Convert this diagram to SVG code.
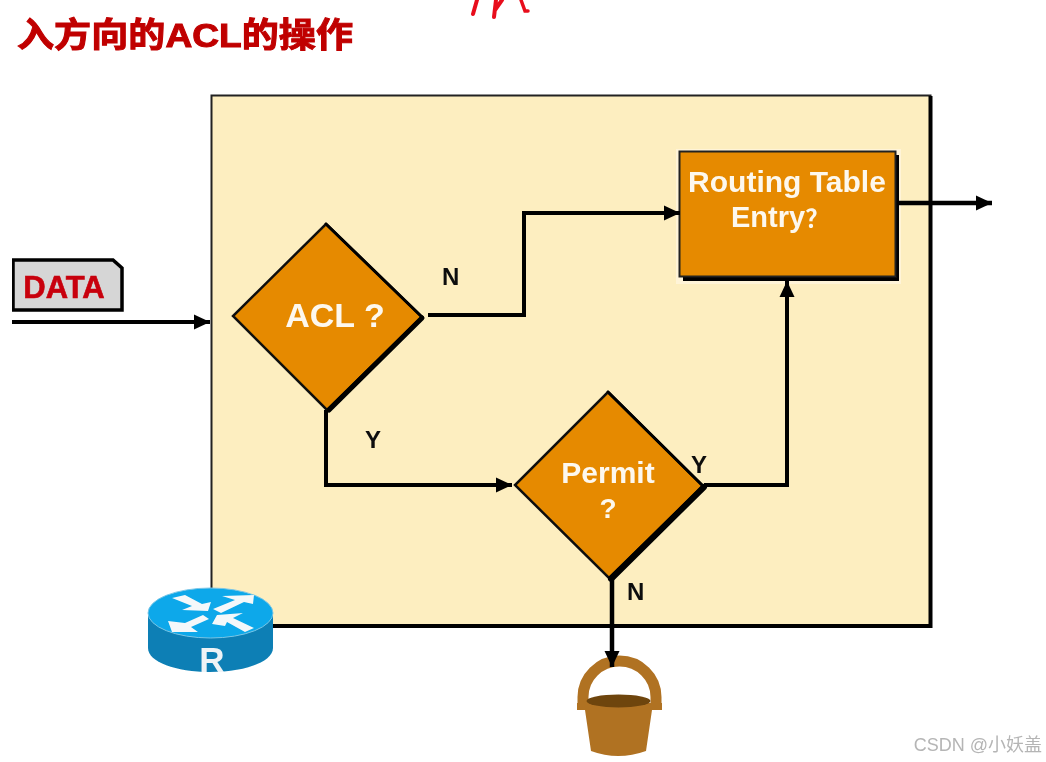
<svg xmlns="http://www.w3.org/2000/svg" width="1046" height="762" viewBox="0 0 1046 762">
<style>
.lbl{font-family:"Liberation Sans",Arial,"Noto Sans CJK SC",sans-serif;font-weight:700}
.w{fill:#fdf8ee;text-anchor:middle}
.k{fill:#111;font-size:24px}
.ln{fill:none;stroke:#000;stroke-linejoin:miter}
.d{fill:#e68a00;stroke:#111;stroke-width:2.500}
.sh{fill:none;stroke:#000;stroke-linecap:round}
</style>
<defs>
<marker id="ah" markerUnits="userSpaceOnUse" markerWidth="17" markerHeight="17" refX="16" refY="8.500" orient="auto"><path d="M0 1L16 8.500L0 16Z" fill="#000"/></marker>
<filter id="soft" x="0" y="0" width="100%" height="100%"><feGaussianBlur stdDeviation="0.550"/></filter>
</defs>
<rect width="1046" height="762" fill="#fff"/>
<g filter="url(#soft)">
<text id="title" class="lbl" x="17" y="47" font-size="34" fill="#c00000" stroke="#c00000" stroke-width="1" textLength="336" lengthAdjust="spacingAndGlyphs">入方向的ACL的操作</text>
<g id="scribble" fill="none" stroke="#e8101c" stroke-linecap="round"><path stroke-width="4" d="M473 14L477 0"/><path stroke-width="4" d="M494 17L496 0M495 10L502 0"/><path stroke-width="3.500" d="M521 0L525 11H528"/></g>
<g id="panel"><rect x="211.500" y="95.500" width="719" height="530" fill="#fdeec0" stroke="#222" stroke-width="2"/><path d="M930.500 96V626H211" fill="none" stroke="#000" stroke-width="4"/></g>
<g id="data"><path d="M13 260H113L122 268V310H13Z" fill="#d6d6d6" stroke="#000" stroke-width="3.500"/><text class="lbl" x="64" y="298" font-size="31" fill="#c8000a" stroke="#c8000a" stroke-width=".6" text-anchor="middle">DATA</text></g>
<g id="acl"><path class="d" d="M326 224L422 317L327 410L233 316Z"/><path class="sh" stroke-width="3" d="M326 224L422 317"/><path class="sh" stroke-width="5" d="M422 318L329 410"/><text class="lbl w" x="335" y="327" font-size="34">ACL ?</text></g>
<g id="permit"><path class="d" d="M608 392L703 486L609 578L515 485Z"/><path class="sh" stroke-width="3" d="M608 392L703 486"/><path class="sh" stroke-width="6" d="M704 487L611 579"/><text class="lbl w" x="608" y="483" font-size="30">Permit</text><text class="lbl w" x="608" y="518" font-size="28">?</text></g>
<g id="routing"><rect x="676" y="149" width="225" height="135" fill="#fff4d8"/><rect x="683" y="155" width="216" height="126" fill="#000"/><rect x="679.500" y="151.500" width="216" height="125" fill="#e68a00" stroke="#222" stroke-width="2"/><text class="lbl w" x="787" y="192" font-size="30">Routing Table</text><text class="lbl" x="731" y="227" font-size="29" fill="#fdf8ee">Entry<tspan font-size="24">？</tspan></text></g>
<g id="labels"><text class="lbl k" x="442" y="285">N</text><text class="lbl k" x="365" y="448">Y</text><text class="lbl k" x="691" y="473">Y</text><text class="lbl k" x="627" y="600">N</text></g>
<g id="router">
<path d="M148 613V648C148 662 176 672 210 672S273 662 273 648V613Z" fill="#0a7fb5"/>
<ellipse cx="210.500" cy="613" rx="62.500" ry="25" fill="#08a8ea" stroke="#7cc6e6" stroke-width="1"/>
<g fill="#f4f8fa"><path d="M172 598L185 595L202 604L211 602L208 611L182 610L192 606Z"/><path d="M213 609L235 600L222 596L254 595L253 604L244 602L221 613Z"/><path d="M168 621L185 623L203 615L209 619L191 627L198 632L172 632Z"/><path d="M212 624L217 615L243 613L233 618L254 628L245 632L227 622L225 626Z"/></g>
<text class="lbl" x="212" y="672" font-size="35" fill="#eef3f6" text-anchor="middle">R</text>
</g>
<g id="bucket">
<path d="M583 707V697A36.500 36 0 0 1 656 697V707" fill="none" stroke="#b07224" stroke-width="11"/>
<path d="M577 703H662L662 710H652L646 751Q618 761 591 751L585 710H577Z" fill="#b07224"/>
<ellipse cx="618.500" cy="701" rx="32" ry="6.500" fill="#6e4510"/>
</g>
<g id="connectors">
<path class="ln" stroke-width="4" d="M12 322H210" marker-end="url(#ah)"/>
<path class="ln" stroke-width="4" d="M428 315H524V213H680" marker-end="url(#ah)"/>
<path class="ln" stroke-width="4" d="M326 410V485H512" marker-end="url(#ah)"/>
<path class="ln" stroke-width="4" d="M704 485H787V281" marker-end="url(#ah)"/>
<path class="ln" stroke-width="4.500" d="M612 578V667" marker-end="url(#ah)"/>
<path class="ln" stroke-width="4.500" d="M898 203H992" marker-end="url(#ah)"/>
</g>
<text id="wm" x="1042" y="751" font-size="18" fill="#b5b5b5" text-anchor="end" style="font-family:'Liberation Sans','Noto Sans CJK SC',sans-serif">CSDN @小妖盖</text>
</g>
</svg>
